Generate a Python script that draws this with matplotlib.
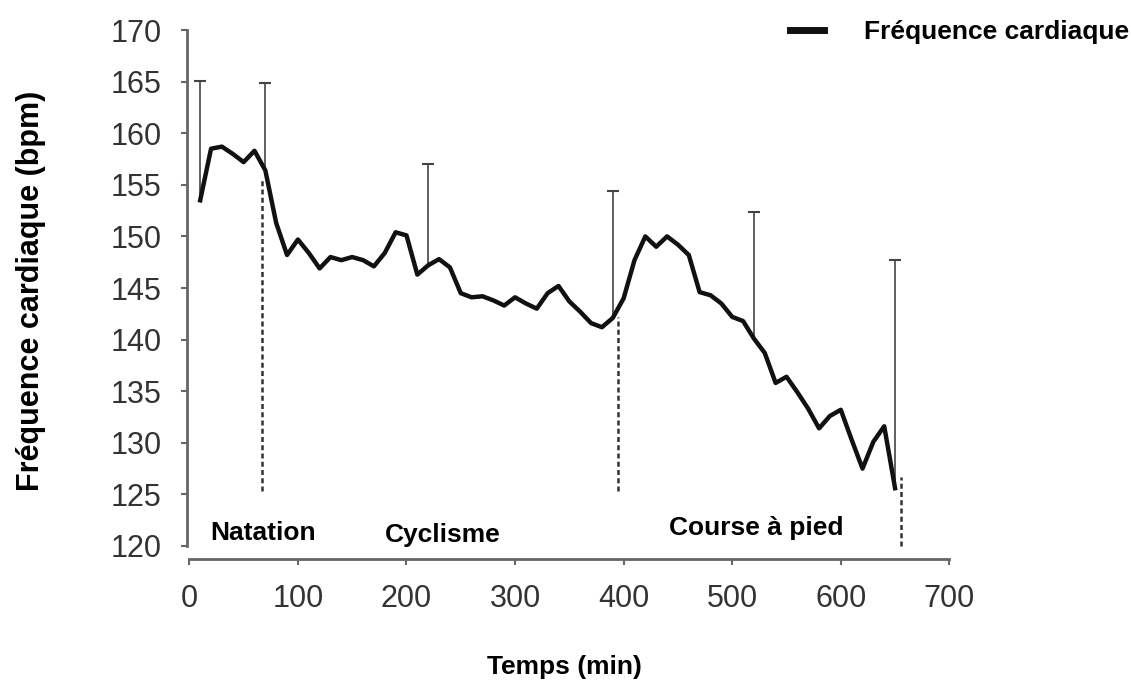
import matplotlib.pyplot as plt
import numpy as np

plt.rcParams['font.family'] = ['Liberation Sans', 'DejaVu Sans']

# temps (min) et fréquence cardiaque moyenne (bpm)
temps = list(range(10, 660, 10))
fc = [153.5, 158.5, 158.7, 158.0, 157.2, 158.3, 156.4, 151.3, 148.2, 149.7,
      148.4, 146.9, 148.0, 147.7, 148.0, 147.7, 147.1, 148.4, 150.4, 150.1,
      146.3, 147.2, 147.8, 147.0, 144.5, 144.1, 144.2, 143.8, 143.3, 144.1,
      143.5, 143.0, 144.5, 145.2, 143.7, 142.7, 141.6, 141.2, 142.1, 144.0,
      147.7, 150.0, 149.0, 150.0, 149.2, 148.2, 144.6, 144.3, 143.5, 142.2,
      141.8, 140.1, 138.7, 135.8, 136.4, 134.9, 133.3, 131.4, 132.6, 133.2,
      130.3, 127.5, 130.1, 131.6, 125.6]

# barres d'erreur (écart vers le haut)
err_t = [10, 70, 220, 390, 520, 650]
err_fc = [153.5, 156.4, 147.2, 142.1, 140.1, 125.6]
err_up = [11.6, 8.5, 9.8, 12.3, 12.3, 22.1]

# transitions entre disciplines
trans_t = [67, 395, 655]
trans_top = [155.6, 142.2, 126.7]
trans_bottom = [125.3, 125.3, 120.0]

disciplines = ['Natation', 'Cyclisme', 'Course à pied']
disc_x = [19, 180, 442]
disc_y = [121.3, 121.1, 121.7]

fig = plt.figure(figsize=(11.31, 6.81), dpi=100)
ax = fig.add_axes([0.1651, 0.1787, 0.6743, 0.7772])

eb = ax.errorbar(err_t, err_fc, yerr=[np.zeros(len(err_up)), err_up], fmt='none',
                 ecolor='#444444', elinewidth=1.2, capsize=4, capthick=1.5, zorder=2)
# pas de chapeau en bas
eb[1][0].set_visible(False)
ax.vlines(trans_t, trans_bottom, trans_top, colors='#333333', linewidth=1.8,
          linestyles=(0, (2, 1.3)), zorder=2)
line, = ax.plot(temps, fc, color='#111111', linewidth=3.2, zorder=3,
                label='Fréquence cardiaque')

for name, x, y in zip(disciplines, disc_x, disc_y):
    ax.text(x, y, name, fontsize=19, fontweight='bold', va='center', ha='left')

ax.set_xlim(-2.4, 700)
ax.set_ylim(118.71, 170)
ax.set_xticks(range(0, 701, 100))
ax.set_yticks(range(120, 171, 5))
for side in ['top', 'right']:
    ax.spines[side].set_visible(False)
ax.spines['left'].set_bounds(120, 170)
ax.spines['bottom'].set_bounds(0, 700)
for side in ['left', 'bottom']:
    ax.spines[side].set_color('#666666')
    ax.spines[side].set_linewidth(2)
ax.tick_params(direction='out', length=4, width=1.5, color='#666666',
               labelsize=22, labelcolor='#333333', pad=14)

fig.text(0.027, 1 - 291 / 681, 'Fréquence cardiaque (bpm)', rotation=90, fontsize=22,
         fontweight='bold', ha='center', va='center')
fig.text(0.4995, 1 - 667 / 681, 'Temps (min)', fontsize=19, fontweight='bold',
         ha='center', va='center')

fig.legend(handles=[line], loc='center right', bbox_to_anchor=(0.998, 1 - 32 / 681),
           frameon=False, prop={'weight': 'bold', 'size': 19},
           handlelength=1.3, handletextpad=1.5, borderaxespad=0, borderpad=0)
for h in fig.legends[0].legend_handles:
    h.set_linewidth(5)

fig.savefig('out.png', dpi=100)
